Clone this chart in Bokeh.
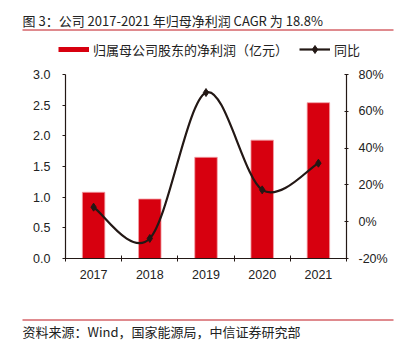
from bokeh.plotting import figure
from bokeh.layouts import column, row
from bokeh.models import (Range1d, LinearAxis, FixedTicker, NumeralTickFormatter,
                          PrintfTickFormatter, Label, Legend, LegendItem)
from bokeh.embed import file_html
from bokeh.resources import INLINE

# ---- data ----
years = ["2017", "2018", "2019", "2020", "2021"]
profit = [1.08, 0.97, 1.65, 1.93, 2.54]          # 归属母公司股东的净利润（亿元）
yoy = [7.9, -9.1, 70.2, 17.3, 31.8]               # 同比 (%)
left_ticks = [0, 0.5, 1.0, 1.5, 2.0, 2.5, 3.0]
right_ticks = [-20, 0, 20, 40, 60, 80]

title_text = "图 3：公司 2017-2021 年归母净利润 CAGR 为 18.8%"
footer_text = "资料来源：Wind，国家能源局，中信证券研究部"
bar_label = "归属母公司股东的净利润（亿元）"
line_label = "同比"

RED = "#D7000F"
RULE = "#C0161E"
DARK = "#231815"
TXT = "#222222"
CJK = "Noto Sans CJK SC"
LAT = "Liberation Sans"

W = 395
TOP_H, MAIN_H, BOT_H = 64, 246, 34
xs = list(range(len(years)))


def blank(h):
    f = figure(width=W, height=h, output_backend="svg", toolbar_location=None,
               x_range=Range1d(0, W), y_range=Range1d(h, 0),
               min_border=0, min_border_left=0, min_border_right=0,
               min_border_top=0, min_border_bottom=0,
               x_axis_type=None, y_axis_type=None)
    f.outline_line_color = None
    f.grid.visible = False
    f.background_fill_color = "white"
    f.border_fill_color = "white"
    return f


# ---- header: title, rule, legend ----
top = blank(TOP_H)
top.add_layout(Label(x=22, y=20, text=title_text, text_font=CJK, text_font_size="13px",
                     text_color=TXT, text_baseline="middle"))
top.segment(x0=[22], y0=[29.5], x1=[393], y1=[29.5], line_color=RULE, line_width=1)
# legend proxies (placed outside the visible area; only their legend swatches show)
off = [-1000, -990]
leg_bar = top.line(x=off, y=off, line_color=RED, line_width=5)
leg_line = top.line(x=off, y=off, line_color=DARK, line_width=2.2)
leg_pt = top.scatter(x=off, y=off, marker="diamond", size=8, fill_color=DARK, line_color=DARK)
legend = Legend(items=[LegendItem(label=bar_label, renderers=[leg_bar]),
                       LegendItem(label=line_label, renderers=[leg_line, leg_pt])],
                orientation="horizontal", location=(58, 5),
                glyph_width=31, glyph_height=20, label_standoff=4, spacing=11,
                padding=0, margin=0, border_line_color=None, background_fill_alpha=0,
                label_text_font=CJK, label_text_font_size="13px", label_text_color=TXT,
                label_height=20)
top.add_layout(legend, "center")

# ---- main chart ----
p = figure(width=W, height=MAIN_H, output_backend="svg", toolbar_location=None,
           x_range=Range1d(-0.5, len(years) - 0.5), y_range=Range1d(left_ticks[0], left_ticks[-1]),
           min_border_left=65, min_border_right=49, min_border_top=10, min_border_bottom=52,
           x_axis_type=None, y_axis_type=None)
p.outline_line_color = None
p.grid.visible = False
p.background_fill_color = "white"
p.border_fill_color = "white"
p.extra_y_ranges = {"r": Range1d(right_ticks[0], right_ticks[-1])}

xaxis = LinearAxis(ticker=FixedTicker(ticks=xs, minor_ticks=[i - 0.5 for i in range(len(years) + 1)]))
xaxis.major_label_overrides = {i: y for i, y in enumerate(years)}
xaxis.major_tick_in = 0
xaxis.major_tick_out = 0
xaxis.minor_tick_in = 3
xaxis.minor_tick_out = 3
xaxis.minor_tick_line_color = DARK
xaxis.major_label_standoff = 8
p.add_layout(xaxis, "below")

yl = LinearAxis(ticker=FixedTicker(ticks=left_ticks), formatter=NumeralTickFormatter(format="0.0"))
yl.major_tick_in = 0
yl.major_tick_out = 3
yl.minor_tick_line_color = None
yl.major_label_standoff = 12
p.add_layout(yl, "left")

yr = LinearAxis(y_range_name="r", ticker=FixedTicker(ticks=right_ticks),
                formatter=PrintfTickFormatter(format="%d%%"))
yr.major_tick_in = 2
yr.major_tick_out = 2
yr.minor_tick_line_color = None
yr.major_label_standoff = 10
p.add_layout(yr, "right")

for ax in (xaxis, yl, yr):
    ax.axis_line_color = DARK
    ax.axis_line_width = 1.2
    ax.major_tick_line_color = DARK
    ax.major_label_text_font = LAT
    ax.major_label_text_font_size = "12.5px"
    ax.major_label_text_color = TXT

bars = p.vbar(x=xs, top=profit, bottom=0, width=0.4, fill_color=RED, line_color="#F2A0A6", line_width=0.8)

# smooth line via cubic Bezier segments (Catmull-Rom style control points)
n = len(xs)
bx0, by0, bx1, by1, cx0, cy0, cx1, cy1 = [], [], [], [], [], [], [], []
for i in range(n - 1):
    a = max(i - 1, 0)
    d = min(i + 2, n - 1)
    bx0.append(xs[i]); by0.append(yoy[i])
    bx1.append(xs[i + 1]); by1.append(yoy[i + 1])
    cx0.append(xs[i] + (xs[i + 1] - xs[a]) / 6.0)
    cy0.append(yoy[i] + (yoy[i + 1] - yoy[a]) / 6.0)
    cx1.append(xs[i + 1] - (xs[d] - xs[i]) / 6.0)
    cy1.append(yoy[i + 1] - (yoy[d] - yoy[i]) / 6.0)
p.bezier(x0=bx0, y0=by0, x1=bx1, y1=by1, cx0=cx0, cy0=cy0, cx1=cx1, cy1=cy1,
         line_color=DARK, line_width=2.2, y_range_name="r")
p.scatter(xs, yoy, marker="diamond", size=8, fill_color=DARK, line_color=DARK, y_range_name="r")

# ---- footer: rule and source ----
bot = blank(BOT_H)
bot.segment(x0=[22], y0=[9.5], x1=[393], y1=[9.5], line_color=RULE, line_width=1)
bot.add_layout(Label(x=22, y=21, text=footer_text, text_font=CJK, text_font_size="13px",
                     text_color=TXT, text_baseline="middle"))

layout = column(row(top), row(p), row(bot), spacing=0)
open("out.html", "w").write(file_html(layout, INLINE))
